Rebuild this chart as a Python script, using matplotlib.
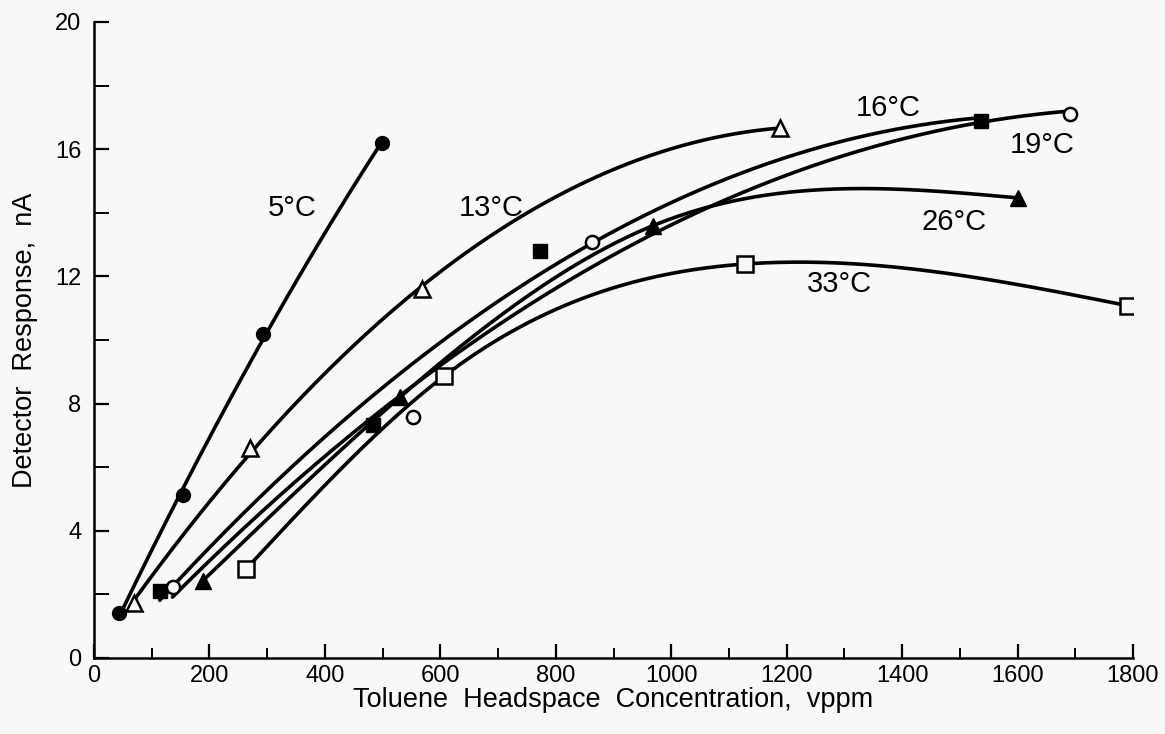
import numpy as np
import matplotlib
matplotlib.use("Agg")
import matplotlib.pyplot as plt

plt.rcParams['font.family'] = ['Liberation Sans', 'DejaVu Sans']

# Data (x: vppm, y: nA)
x_5 = [44, 155, 293, 499]
y_5 = [1.42, 5.13, 10.2, 16.2]

x_13 = [69, 270, 569, 1188]
y_13 = [1.72, 6.6, 11.6, 16.68]

x_16 = [114, 484, 773, 1537]
y_16 = [2.12, 7.33, 12.8, 16.9]

x_19 = [136, 553, 863, 1690]
y_19 = [2.22, 7.59, 13.07, 17.1]

x_26 = [188, 530, 969, 1600]
y_26 = [2.42, 8.2, 13.6, 14.47]

x_33 = [263, 607, 1128, 1791]
y_33 = [2.79, 8.87, 12.39, 11.08]

labels = ['5°C', '13°C', '16°C', '19°C', '26°C', '33°C']
xticks = [0, 200, 400, 600, 800, 1000, 1200, 1400, 1600, 1800]
yticks = [0, 4, 8, 12, 16, 20]


def natural_spline(xs, ys, xx):
    xs = np.asarray(xs, float)
    ys = np.asarray(ys, float)
    n = len(xs)
    h = np.diff(xs)
    s = np.diff(ys) / h
    A = np.zeros((n, n))
    b = np.zeros(n)
    A[0, 0] = 1
    A[-1, -1] = 1
    for i in range(1, n - 1):
        A[i, i - 1] = h[i - 1]
        A[i, i] = 2 * (h[i - 1] + h[i])
        A[i, i + 1] = h[i]
        b[i] = 6 * (s[i] - s[i - 1])
    M = np.linalg.solve(A, b)
    out = np.empty_like(xx)
    for k, x in enumerate(xx):
        i = min(max(np.searchsorted(xs, x) - 1, 0), n - 2)
        t = (x - xs[i]) / h[i]
        a_, b_ = 1 - t, t
        out[k] = (a_ * ys[i] + b_ * ys[i + 1]
                  + ((a_ ** 3 - a_) * M[i] + (b_ ** 3 - b_) * M[i + 1]) * h[i] ** 2 / 6)
    return out


def quad_fit(xs, ys, xx):
    c = np.polyfit(np.asarray(xs, float), np.asarray(ys, float), 2)
    return np.polyval(c, xx)


BG = '#f8f8f8'
fig = plt.figure(figsize=(11.65, 7.34), dpi=100, facecolor=BG)
ax = fig.add_axes([94/1165, 1-658/734, (1133-94)/1165, (658-22)/734])
ax.set_facecolor(BG)

series = [
    (x_5, y_5, quad_fit, dict(marker='o', mfc='black', mec='black', ms=10)),
    (x_13, y_13, quad_fit, dict(marker='^', mfc=BG, mec='black', ms=11, mew=1.8)),
    (x_16, y_16, quad_fit, dict(marker='s', mfc='black', mec='black', ms=9.5)),
    (x_19, y_19, quad_fit, dict(marker='o', mfc=BG, mec='black', ms=9.5, mew=1.8)),
    (x_26, y_26, natural_spline, dict(marker='^', mfc='black', mec='black', ms=11)),
    (x_33, y_33, natural_spline, dict(marker='s', mfc=BG, mec='black', ms=11, mew=1.8)),
]

for xs, ys, fn, mk in series:
    xx = np.linspace(min(xs), max(xs), 300)
    ax.plot(xx, fn(xs, ys, xx), color='black', lw=2.6, zorder=2,
            solid_capstyle='round')
    ax.plot(xs, ys, linestyle='none', zorder=3, **mk)

# Curve labels
label_pos = [(343, 14.15), (689, 14.14), (1376, 17.3), (1642, 16.13),
             (1490, 13.72), (1292, 11.75)]
for (lx, ly), t in zip(label_pos, labels):
    ax.text(lx, ly, t, fontsize=21, ha='center', va='center', color='black')

ax.set_xlim(0, 1800)
ax.set_ylim(0, 20)
ax.set_xticks(xticks)
ax.set_yticks(yticks)
ax.set_xticks(np.arange(100, 1800, 200), minor=True)
ax.set_yticks(np.arange(2, 20, 4), minor=True)
ax.tick_params(axis='both', which='major', direction='in', length=10,
               width=1.6, labelsize=17, pad=5)
ax.tick_params(axis='both', which='minor', direction='in', length=7.5,
               width=1.4)
ax.tick_params(axis='y', which='both', length=11)
ax.tick_params(axis='y', which='major', pad=9)
for s in ['top', 'right']:
    ax.spines[s].set_visible(False)
for s in ['left', 'bottom']:
    ax.spines[s].set_linewidth(1.8)

ax.set_xlabel('Toluene  Headspace  Concentration,  vppm', fontsize=19.5, labelpad=0)
ax.set_ylabel('Detector  Response,  nA', fontsize=19.5, labelpad=12)

fig.savefig('out.png', dpi=100, facecolor=BG)
